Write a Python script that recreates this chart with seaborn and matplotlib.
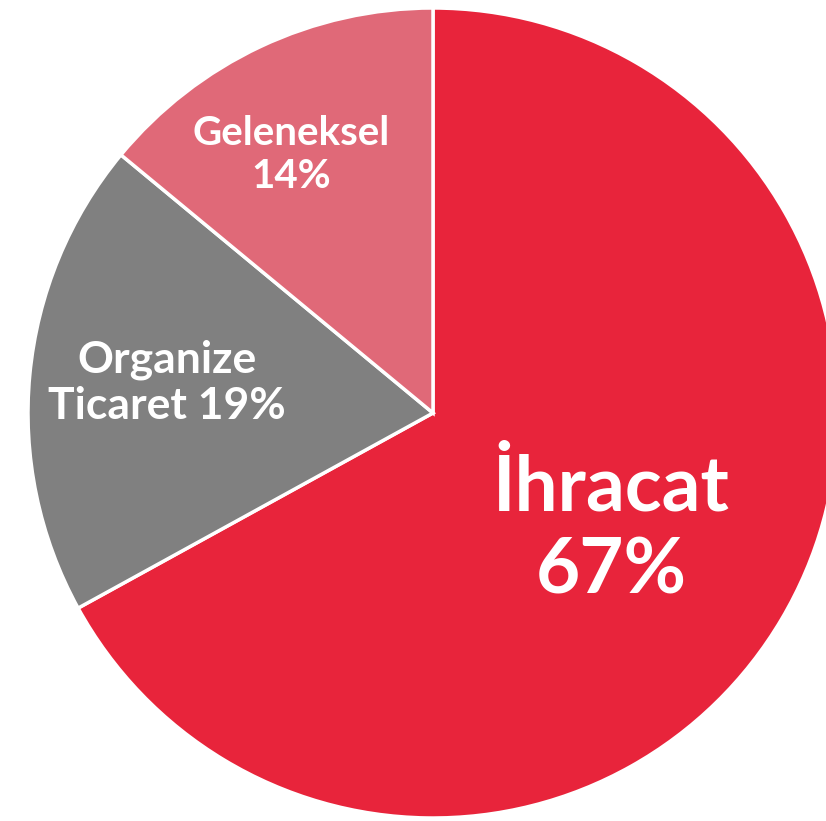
import matplotlib
matplotlib.use("Agg")
import matplotlib.pyplot as plt
import seaborn as sns

# pie data, clockwise from the top
categories = ["İhracat", "Organize\nTicaret", "Geleneksel"]
shares = [67, 19, 14]
labels = ["İhracat\n67%", "Organize\nTicaret 19%", "Geleneksel\n14%"]
colors = ["#E8243B", "#808080", "#E06978"]

sns.set_theme(style="white")
plt.rcParams["font.family"] = ["Lato", "DejaVu Sans"]

fig = plt.figure(figsize=(8.26, 8.21), dpi=100)
ax = fig.add_axes([0, 0, 1, 1])

cx, cy, r = 433, 821 - 413, 405
wedges, _ = ax.pie(shares, colors=colors, startangle=90, counterclock=False,
                   center=(cx, cy), radius=r,
                   wedgeprops=dict(edgecolor="white", linewidth=2.5))

# label positions (pixels from top-left)
label_pos = [(611, 821 - 529), (167, 821 - 383), (291, 821 - 155)]
label_size = [55, 32, 29]
label_spacing = [1.22, 1.17, 1.18]
for txt, (x, y), fs, ls in zip(labels, label_pos, label_size, label_spacing):
    ax.text(x, y, txt, ha="center", va="center", color="white",
            fontsize=fs, fontweight="bold", linespacing=ls)

ax.set_xlim(0, 826)
ax.set_ylim(0, 821)
ax.set_aspect("equal")
ax.axis("off")

fig.savefig("out.png", dpi=100)
